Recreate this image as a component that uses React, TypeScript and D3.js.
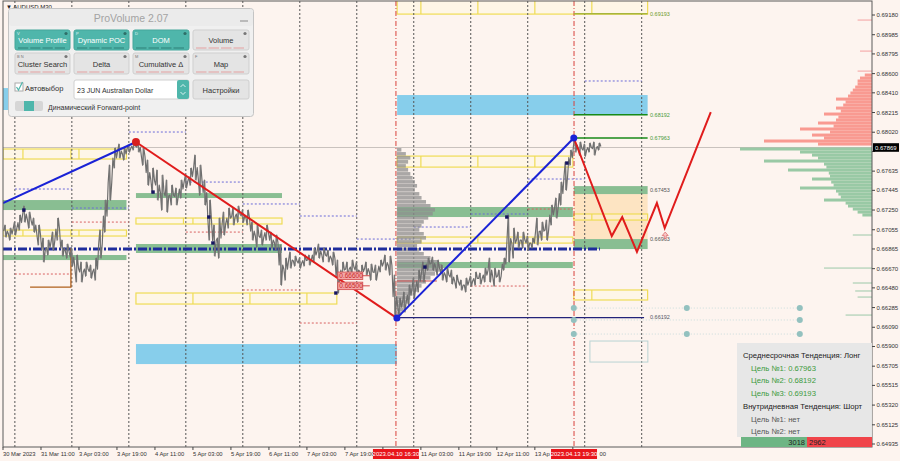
import * as d3 from "d3"

// AUDUSD M30, bars grouped in 2h bins, hours counted in trading time from 30 Mar 19:00
const binHours = 2
const barHigh = [
  0.67102, 0.67072, 0.67131, 0.67201, 0.6729, 0.6723, 0.67171, 0.67102, 0.66973, 0.66953,
  0.67032, 0.67171, 0.66953, 0.66914, 0.66874, 0.66805, 0.66736, 0.66736, 0.66706, 0.66775,
  0.67052, 0.67349, 0.67695, 0.67864, 0.67903, 0.67864, 0.67893, 0.67923, 0.67923, 0.67864,
  0.67745, 0.67666, 0.67646, 0.67596, 0.67547, 0.67497, 0.67468, 0.67547, 0.67596, 0.67666,
  0.67794, 0.67695, 0.67547, 0.67349, 0.67102, 0.67171, 0.6723, 0.6727, 0.6727, 0.6729,
  0.6725, 0.6725, 0.67131, 0.67102, 0.67052, 0.67102, 0.67032, 0.67003, 0.66904, 0.66775,
  0.66835, 0.66795, 0.66775, 0.66805, 0.66805, 0.66874, 0.66914, 0.66874, 0.66854, 0.66835,
  0.66755, 0.66736, 0.66736, 0.66755, 0.66736, 0.66706, 0.66736, 0.66716, 0.66706, 0.66755,
  0.66805, 0.66795, 0.66607, 0.66379, 0.66439, 0.66508, 0.66577, 0.66656, 0.66736, 0.66775,
  0.66785, 0.66755, 0.66706, 0.66676, 0.66656, 0.66607, 0.66557, 0.66577, 0.66597, 0.66637,
  0.66627, 0.66676, 0.66775, 0.66676, 0.66656, 0.66775, 0.67201, 0.67072, 0.67032, 0.67032,
  0.66993, 0.66973, 0.67171, 0.67131, 0.67151, 0.673, 0.67369, 0.67527, 0.67725, 0.67844,
  0.67963, 0.67923, 0.67903, 0.67913, 0.67923, 0.67913,
]
const barLow = [
  0.66983, 0.66953, 0.67003, 0.67052, 0.67131, 0.67072, 0.67032, 0.66904, 0.66736, 0.66805,
  0.66854, 0.66953, 0.66795, 0.66775, 0.66696, 0.66538, 0.66538, 0.66597, 0.66577, 0.66557,
  0.66775, 0.67032, 0.67349, 0.67666, 0.67765, 0.67745, 0.67824, 0.67844, 0.67824, 0.67695,
  0.67497, 0.67418, 0.67349, 0.6725, 0.6723, 0.673, 0.673, 0.67369, 0.67468, 0.67497,
  0.67547, 0.67398, 0.673, 0.66953, 0.66795, 0.66775, 0.67003, 0.67072, 0.67102, 0.67131,
  0.67131, 0.67102, 0.66953, 0.66884, 0.66904, 0.66953, 0.66874, 0.66854, 0.66508, 0.66557,
  0.66676, 0.66696, 0.66676, 0.66696, 0.66706, 0.66736, 0.66775, 0.66736, 0.66736, 0.66706,
  0.66429, 0.66577, 0.66597, 0.66617, 0.66577, 0.66577, 0.66607, 0.66557, 0.66557, 0.66637,
  0.66656, 0.66607, 0.66181, 0.66201, 0.66241, 0.6631, 0.66379, 0.66439, 0.66538, 0.66656,
  0.66656, 0.66607, 0.66557, 0.66538, 0.66518, 0.66478, 0.66458, 0.66439, 0.66498, 0.66508,
  0.66518, 0.66538, 0.66538, 0.66498, 0.66538, 0.66656, 0.66736, 0.66775, 0.66874, 0.66874,
  0.66854, 0.66874, 0.66904, 0.66953, 0.66953, 0.67102, 0.67171, 0.673, 0.67448, 0.67695,
  0.67824, 0.67794, 0.67784, 0.67824, 0.67794, 0.67844,
]

const priceTicks = [
  "0.69180", "0.68985", "0.68795", "0.68600", "0.68410", "0.68215", "0.68020", "0.67830",
  "0.67635", "0.67445", "0.67250", "0.67055", "0.66865", "0.66670", "0.66480", "0.66285",
  "0.66090", "0.65900", "0.65705", "0.65515", "0.65320", "0.65125", "0.64935",
]
const timeLabels = [
  "30 Mar 2023", "31 Mar 11:00", "3 Apr 03:00", "3 Apr 19:00", "4 Apr 11:00", "5 Apr 03:00",
  "5 Apr 19:00", "6 Apr 11:00", "7 Apr 03:00", "7 Apr 19:00", "10 Apr 11:00", "11 Apr 03:00",
  "11 Apr 19:00", "12 Apr 11:00", "13 Apr 03:00", "13 Apr 19:00",
]
const daySeparators = [5, 29, 53, 77, 101, 125, 149, 173, 197, 221, 245, 269]
const markerTimes = [
  { label: "2023.04.10 16:30", h: 165.5 },
  { label: "2023.04.13 19:30", h: 240.5 },
]
const currentPrice = 0.67869

// zones: [fromHour, toHour, topPrice, bottomPrice]
const skyZones = [
  [0, 52, 0.68457, 0.6824],
  [166, 271.5, 0.68388, 0.6819],
  [56, 165.9, 0.65924, 0.65726],
]
const greenZones = [
  [0, 52, 0.67349, 0.6725],
  [0, 52, 0.66805, 0.66755],
  [56, 117.5, 0.67418, 0.67369],
  [56, 117.5, 0.66914, 0.66825],
  [166, 240, 0.6728, 0.67181],
  [166, 240, 0.66736, 0.66676],
  [240.4, 271.5, 0.67487, 0.67408],
  [240.4, 271.5, 0.66963, 0.66864],
]
const orangeZones = [[240.4, 271.5, 0.67408, 0.66963]]
const yellowBoxes = [
  { z: [0, 52, 0.67854, 0.67755], div: [8.4, 28.6, 32] },
  { z: [0, 52, 0.67052, 0.66993], div: [8.4, 28.6, 32] },
  { z: [56, 117.5, 0.67171, 0.67112], div: [76, 80] },
  { z: [56, 140.6, 0.66429, 0.6632], div: [80, 104, 128] },
  { z: [166, 240, 0.67784, 0.67675], div: [176, 200, 224] },
  { z: [166, 240, 0.66983, 0.66923], div: [176, 200, 224] },
  { z: [166, 271.5, 0.6935, 0.69189], div: [176, 200, 224, 248] },
  { z: [240.4, 271.5, 0.67211, 0.67151], div: [248] },
  { z: [240.4, 271.5, 0.66459, 0.6636], div: [248] },
]
// daily levels: [fromHour, toHour, price]
const blueLevels = [
  [5, 29, 0.67458], [29, 53, 0.6727], [53, 77, 0.68022], [77, 101, 0.67527],
  [101, 125, 0.6731], [125, 149, 0.67191], [149, 173, 0.66963], [173, 197, 0.67082],
  [197, 221, 0.67211], [221, 245, 0.67557], [245, 269, 0.68527],
]
const redLevels = [
  [5, 29, 0.66617], [29, 53, 0.67131], [77, 101, 0.67032], [101, 125, 0.66459],
  [125, 149, 0.66132], [197, 221, 0.66498], [221, 240, 0.6726],
]
const pocLine = { from: 0, to: 251.4, price: 0.66864 }
const lowLine = { from: 165.9, to: 270, price: 0.66185 }
const brownPath = [[11.4, 0.66488], [28.6, 0.66488], [28.6, 0.66874]]

const targets = [
  { price: 0.69193, color: "#a7b53c" },
  { price: 0.68192, color: "#188a18" },
  { price: 0.67963, color: "#188a18" },
]
const levelLabels = [
  { price: 0.69193, text: "0.69193", color: "#6f9a2a" },
  { price: 0.68192, text: "0.68192", color: "#4a9a3a" },
  { price: 0.67963, text: "0.67963", color: "#4a9a3a" },
  { price: 0.67453, text: "0.67453", color: "#555" },
  { price: 0.66963, text: "0.66963", color: "#555" },
  { price: 0.66192, text: "0.66192", color: "#556" },
]

const waveUp1 = [[0, 0.67319], [56, 0.67923]]
const waveDown = [[56, 0.67923], [165.9, 0.66181]]
const waveUp2 = [[165.9, 0.66181], [240.4, 0.67963]]
const forecast = [
  [240.4, 0.67963], [256.4, 0.66993], [260.8, 0.67181], [267, 0.66835],
  [275.4, 0.67319], [278.7, 0.67072], [298.1, 0.6822],
]
const swingDots = [
  [8.8, 0.6725], [63.2, 0.67428], [86.7, 0.67181], [88.4, 0.66924], [140.2, 0.66429],
  [177.7, 0.66686], [212.2, 0.67181], [237.5, 0.67715],
]
const circleMarks = [
  [240.4, 0.6628], [288, 0.6628], [335.6, 0.6628], [240.4, 0.66162], [335.6, 0.66162],
  [240.4, 0.66023], [288, 0.66023], [335.6, 0.66023],
]
const priceTags = [
  { text: "0.66600", price: 0.666 },
  { text: "0.66500", price: 0.665 },
]

// volume profile of the last swing
const profilePrices = [
  0.67844, 0.67804, 0.67765, 0.67725, 0.67685, 0.67646, 0.67606, 0.67567, 0.67527, 0.67488,
  0.67448, 0.67408, 0.67369, 0.67329, 0.6729, 0.6725, 0.67211, 0.67171, 0.67131, 0.67092,
  0.67052, 0.67013, 0.66973, 0.66933, 0.66894, 0.66854, 0.66815, 0.66775, 0.66736, 0.66696,
  0.66656, 0.66617, 0.66577, 0.66538, 0.66498, 0.66458, 0.66419, 0.66379, 0.6634, 0.663,
  0.66261, 0.66221,
]
const profileVol = [
  8, 16, 24, 20, 16, 20, 24, 28, 32, 36, 32, 40, 44, 52, 60, 68, 64, 56, 48, 44,
  40, 48, 52, 44, 36, 40, 48, 60, 72, 80, 76, 68, 60, 52, 44, 36, 28, 24, 20, 16,
  12, 8,
]

// depth of market at the right edge
const askPrices = [
  0.68586, 0.68556, 0.68527, 0.68497, 0.68467, 0.68437, 0.68408, 0.68378, 0.68348, 0.68319,
  0.68289, 0.68259, 0.6823, 0.682, 0.6817, 0.68141, 0.68111, 0.68081, 0.68052, 0.68022,
  0.67992, 0.67963, 0.67933, 0.67903,
]
const askSize = [
  6, 10, 12, 12, 14, 16, 18, 20, 30, 22, 24, 30, 26, 40, 28, 30, 45, 32, 60, 35, 50, 40, 90, 45,
]
const bidPrices = [
  0.67854, 0.67824, 0.67794, 0.67765, 0.67735, 0.67705, 0.67676, 0.67646, 0.67616, 0.67586,
  0.67557, 0.67527, 0.67497, 0.67468, 0.67438, 0.67408, 0.67379, 0.67349, 0.67319, 0.6729,
  0.6726, 0.6723, 0.67201,
]
const bidSize = [
  110, 60, 50, 45, 90, 40, 38, 70, 36, 35, 50, 34, 32, 60, 30, 28, 26, 40, 22, 20, 16, 12, 8,
]
const domStray = [
  { price: 0.6913, size: 12, ask: true }, { price: 0.68823, size: 10, ask: true },
  { price: 0.68625, size: 12, ask: true }, { price: 0.67003, size: 16, ask: false },
  { price: 0.66676, size: 40, ask: false }, { price: 0.66528, size: 16, ask: false },
  { price: 0.66449, size: 14, ask: false }, { price: 0.66389, size: 12, ask: false },
  { price: 0.66211, size: 22, ask: false },
]

const trendInfo = [
  { text: "Среднесрочная Тенденция: Лонг", color: "#222", indent: 0 },
  { text: "Цель №1: 0.67963", color: "#3c9a3c", indent: 8 },
  { text: "Цель №2: 0.68192", color: "#3c9a3c", indent: 8 },
  { text: "Цель №3: 0.69193", color: "#3c9a3c", indent: 8 },
  { text: "Внутридневная Тенденция: Шорт", color: "#222", indent: 0 },
  { text: "Цель №1: нет", color: "#555", indent: 8 },
  { text: "Цель №2: нет", color: "#555", indent: 8 },
]
const buyVolume = 3018
const sellVolume = 2962

const FONT = "Liberation Sans, Arial, sans-serif"
const TEAL = "#4fb6ab"
const AXIS_FS = 5.8

// rough Arial advance widths, used to cut axis labels hidden under the red time markers
function textWidth(s: string, fs: number) {
  let w = 0
  for (const ch of s) {
    if (/[0-9]/.test(ch)) w += 0.556
    else if (ch === " " || ch === ":") w += 0.278
    else if (ch === "r") w += 0.333
    else if (ch === "M") w += 0.833
    else if (ch === "A") w += 0.667
    else w += 0.556
  }
  return w * fs
}

function Button({ x, y, w, h, label, on, letter }: any) {
  return (
    <g>
      <rect x={x} y={y} width={w} height={h} rx={2} fill={on ? TEAL : "#e4e4e4"} stroke={on ? "#45a69b" : "#cfcfcf"} />
      <text x={x + w / 2} y={y + h / 2 + 3} textAnchor="middle" fontSize={7.5} fill={on ? "#fff" : "#333"}>
        {label}
      </text>
      {letter && (
        <text x={x + 2} y={y + 5} fontSize={4} fill={on ? "#e0f4f2" : "#777"}>
          {letter}
        </text>
      )}
      <circle cx={x + w - 4} cy={y + 3.5} r={1.6} fill={on ? "#2f6f68" : "#777"} />
      {[0, 1, 2, 3].map((k) => (
        <line
          key={k}
          x1={x + 3 + (k * (w - 6)) / 4}
          x2={x + 1 + ((k + 1) * (w - 6)) / 4}
          y1={y + h - 2}
          y2={y + h - 2}
          stroke={on ? "#2e7f76" : "#e4a0a0"}
          strokeWidth={1}
        />
      ))}
    </g>
  )
}

export default function App() {
  const x = d3.scaleLinear().domain([0, 366]).range([3, 872])
  const y = d3.scaleLinear().domain([0.64935, 0.6918]).range([444, 15])
  const vol = d3.scaleLinear().domain([0, 100]).range([0, 56])
  const dom = d3.scaleLinear().domain([0, 100]).range([0, 120])
  const line = d3
    .line<number[]>()
    .x((d) => x(d[0]))
    .y((d) => y(d[1]))

  // price bars as a zig-zag through each bin's high and low
  let pricePath = ""
  barHigh.forEach((hi, i) => {
    const lo = barLow[i]
    const h0 = i * binHours
    const first = i % 2 === 0 ? hi : lo
    const second = i % 2 === 0 ? lo : hi
    pricePath += `${i === 0 ? "M" : "L"}${x(h0 + 0.3)},${y((hi + lo) / 2)}L${x(h0 + 0.8)},${y(first)}L${x(h0 + 1.3)},${y(second)}L${x(h0 + 1.8)},${y(hi * 0.5 + lo * 0.5)}`
  })

  const zoneRect = (z: number[], key: any, props: any) => (
    <rect key={key} x={x(z[0])} y={y(z[2])} width={x(z[1]) - x(z[0])} height={y(z[3]) - y(z[2])} {...props} />
  )

  const plotRight = x(366)
  const plotBottom = 447
  const markerBoxes = markerTimes.map((m) => [x(m.h) - 23, x(m.h) + 23])

  // keep only the visible part of time labels that run under a red marker label
  const axisLabels = timeLabels.map((t, i) => {
    const lx = x(i * 16)
    let text = t
    let tx = lx
    for (const [b0, b1] of markerBoxes) {
      const end = tx + textWidth(text, AXIS_FS)
      if (tx >= b0 && tx <= b1) {
        let k = 0
        while (k < text.length && tx + textWidth(text.slice(0, k), AXIS_FS) < b1 + 1) k++
        tx = tx + textWidth(text.slice(0, k), AXIS_FS)
        text = text.slice(k)
      } else if (tx < b0 && end > b0 + 2.5) {
        let k = text.length
        while (k > 0 && tx + textWidth(text.slice(0, k), AXIS_FS) > b0 - 0.5) k--
        text = text.slice(0, k).trimEnd()
      }
    }
    return { lx, tx, text }
  })

  return (
    <div style={{ position: "absolute", left: 0, top: 0, width: 900, height: 461 }}>
      <svg width={900} height={461} style={{ display: "block" }} fontFamily={FONT}>
        <defs>
          <clipPath id="plot">
            <rect x={3} y={1} width={plotRight - 3} height={plotBottom - 1} />
          </clipPath>
        </defs>
        <rect width={900} height={461} fill="#fdf4ef" />

        <g clipPath="url(#plot)">
          {skyZones.map((z, i) => zoneRect(z, "s" + i, { fill: "#87ceeb" }))}
          {orangeZones.map((z, i) => zoneRect(z, "o" + i, { fill: "#fde4c2" }))}
          {greenZones.map((z, i) => zoneRect(z, "g" + i, { fill: "#7fb98a", opacity: 0.92 }))}
          {yellowBoxes.map((b, i) => (
            <g key={"y" + i} stroke="#efdc55" strokeWidth={1.2} fill="none">
              {zoneRect(b.z, "r", { fill: "#fff8da", fillOpacity: 0.35 })}
              {b.div.map((d, k) => (
                <line key={k} x1={x(d)} x2={x(d)} y1={y(b.z[2])} y2={y(b.z[3])} />
              ))}
            </g>
          ))}

          {daySeparators.map((h) => (
            <line key={h} x1={x(h)} x2={x(h)} y1={1} y2={plotBottom} stroke="#555" strokeWidth={1} strokeDasharray="2,2" />
          ))}
          {markerTimes.map((m) => (
            <line key={m.h} x1={x(m.h)} x2={x(m.h)} y1={1} y2={plotBottom} stroke="#d8403a" strokeWidth={1} strokeDasharray="5,2,1,2" />
          ))}
          <line x1={3} x2={plotRight} y1={y(currentPrice)} y2={y(currentPrice)} stroke="#c9c2be" strokeWidth={1} />

          {blueLevels.map((l, i) => (
            <line key={"bl" + i} x1={x(l[0])} x2={x(l[1])} y1={y(l[2])} y2={y(l[2])} stroke="#6a6ad8" strokeDasharray="2,2" />
          ))}
          {redLevels.map((l, i) => (
            <line key={"rl" + i} x1={x(l[0])} x2={x(l[1])} y1={y(l[2])} y2={y(l[2])} stroke="#d86060" strokeDasharray="2,2" />
          ))}

          {/* volume profile */}
          {profilePrices.map((p, i) => (
            <rect key={"vp" + i} x={x(165.9)} y={y(p) - 2} width={vol(profileVol[i])} height={3.6} fill="#8e8e8e" opacity={0.75} />
          ))}
          <line x1={x(165.9)} x2={x(165.9) + 40} y1={y(0.66548)} y2={y(0.66548)} stroke="#d05050" strokeWidth={1} />

          {/* depth of market */}
          {askPrices.map((p, i) => (
            <rect key={"a" + i} x={plotRight - dom(askSize[i])} y={y(p) - 1.5} width={dom(askSize[i])} height={3} fill="#f88a80" opacity={0.85} />
          ))}
          {bidPrices.map((p, i) => (
            <rect key={"b" + i} x={plotRight - dom(bidSize[i])} y={y(p) - 1.5} width={dom(bidSize[i])} height={3} fill="#8ec49c" opacity={0.9} />
          ))}
          {domStray.map((d, i) => (
            <line key={"ds" + i} x1={plotRight - dom(d.size)} x2={plotRight} y1={y(d.price)} y2={y(d.price)} stroke={d.ask ? "#f4a0a0" : "#9cc8a8"} strokeWidth={1} />
          ))}

          <line x1={x(pocLine.from)} x2={x(pocLine.to)} y1={y(pocLine.price)} y2={y(pocLine.price)} stroke="#1f2c9c" strokeWidth={3} strokeDasharray="9,2,2,2" />
          <line x1={x(lowLine.from)} x2={x(lowLine.to)} y1={y(lowLine.price)} y2={y(lowLine.price)} stroke="#23237a" strokeWidth={1.3} />
          {targets.map((t) => (
            <line key={t.price} x1={x(240.4)} x2={x(271.5)} y1={y(t.price)} y2={y(t.price)} stroke={t.color} strokeWidth={1.5} />
          ))}
          {levelLabels.map((l) => (
            <text key={l.text} x={x(272.5)} y={y(l.price) + 2} fontSize={5.5} fill={l.color}>
              {l.text}
            </text>
          ))}
          <path d={line(brownPath as any) || ""} fill="none" stroke="#b0601c" strokeWidth={1.3} />

          {[0.6628, 0.66162, 0.66023].map((p) => (
            <line key={p} x1={x(240.4)} x2={x(335.6)} y1={y(p)} y2={y(p)} stroke="#c8dcdc" strokeDasharray="1,2" />
          ))}
          <rect x={x(247.2)} y={y(0.65954)} width={x(271.6) - x(247.2)} height={y(0.65746) - y(0.65954)} fill="none" stroke="#b9d3d3" />

          <path d={pricePath} fill="none" stroke="#6e6e6e" strokeWidth={1.2} strokeLinejoin="round" />
          {barHigh.map((hi, i) => (
            <line key={"bar" + i} x1={x(i * binHours + 1)} x2={x(i * binHours + 1)} y1={y(hi)} y2={y(barLow[i])} stroke="#7a7a7a" strokeWidth={1} />
          ))}

          <path d={line(waveUp1 as any) || ""} stroke="#1a22d6" strokeWidth={2} fill="none" />
          <path d={line(waveDown as any) || ""} stroke="#e01c1c" strokeWidth={2} fill="none" />
          <path d={line(waveUp2 as any) || ""} stroke="#1a22d6" strokeWidth={2} fill="none" />
          <path d={line(forecast as any) || ""} stroke="#e01c1c" strokeWidth={2} fill="none" strokeLinejoin="miter" />
          <circle cx={x(56)} cy={y(0.67923)} r={4} fill="#d81e1e" />
          <circle cx={x(165.9)} cy={y(0.66181)} r={3.5} fill="#1a22d6" />
          <circle cx={x(240.4)} cy={y(0.67963)} r={3.5} fill="#1a22d6" />
          {swingDots.map((d, i) => (
            <rect key={"sd" + i} x={x(d[0]) - 1.7} y={y(d[1]) - 1.7} width={3.4} height={3.4} fill="#151560" />
          ))}
          <path d={`M${x(278.9)},${y(0.67032)}l-3,3.5h2v3h2v-3h2z`} fill="#f7c8c8" stroke="#e07070" strokeWidth={0.8} />
          {circleMarks.map((c, i) => (
            <circle key={"cm" + i} cx={x(c[0])} cy={y(c[1])} r={3} fill="#93c1bf" />
          ))}
          {priceTags.map((t) => (
            <g key={t.text}>
              <rect x={x(141)} y={y(t.price) - 3.7} width={25} height={7.5} fill="#f3a6a6" stroke="#d24a4a" strokeWidth={0.8} />
              <text x={x(141) + 1.5} y={y(t.price) + 2.3} fontSize={6.5} fill="#c82828">
                {t.text}
              </text>
              <line x1={x(141) + 25} x2={x(141) + 32} y1={y(t.price)} y2={y(t.price)} stroke="#d24a4a" />
            </g>
          ))}
        </g>

        {/* frame and axes */}
        <rect x={3} y={1} width={plotRight - 3} height={plotBottom - 1} fill="none" stroke="#5a5a5a" strokeWidth={1} />
        <text x={6} y={8.5} fontSize={6} fill="#222">
          ▼ AUDUSD,M30
        </text>
        {priceTicks.map((t) => (
          <g key={t}>
            <line x1={plotRight} x2={plotRight + 3} y1={y(+t)} y2={y(+t)} stroke="#444" />
            {Math.abs(y(+t) - y(currentPrice)) > 7 && (
              <text x={plotRight + 4.5} y={y(+t) + 2} fontSize={6} fill="#333">
                {t}
              </text>
            )}
          </g>
        ))}
        <rect x={plotRight + 1} y={y(currentPrice) - 4.3} width={26} height={8.6} fill="#000" />
        <text x={plotRight + 3} y={y(currentPrice) + 2.2} fontSize={6} fill="#fff">
          {currentPrice.toFixed(5)}
        </text>
        {axisLabels.map((l, i) => (
          <g key={i}>
            <line x1={l.lx} x2={l.lx} y1={plotBottom} y2={plotBottom + 3} stroke="#444" />
            {l.text && (
              <text x={l.tx} y={plotBottom + 8.5} fontSize={AXIS_FS} fill="#333">
                {l.text}
              </text>
            )}
          </g>
        ))}
        {markerTimes.map((m) => (
          <g key={m.label}>
            <rect x={x(m.h) - 23} y={plotBottom + 2} width={46} height={10} fill="#e8161c" />
            <text x={x(m.h)} y={plotBottom + 9} textAnchor="middle" fontSize={6} fill="#fff">
              {m.label}
            </text>
          </g>
        ))}

        {/* trend info panel */}
        <rect x={737} y={343} width={plotRight - 737} height={94} fill="#e6e6e6" opacity={0.95} />
        {trendInfo.map((r, i) => (
          <text key={i} x={743 + r.indent} y={358 + i * 12.7} fontSize={7.7} fill={r.color}>
            {r.text}
          </text>
        ))}
        <rect x={741} y={437} width={66} height={10} fill="#6db584" />
        <rect x={807} y={437} width={plotRight - 807} height={10} fill="#f0444a" />
        <text x={805} y={445} textAnchor="end" fontSize={7.5} fill="#222">
          {buyVolume}
        </text>
        <text x={809} y={445} fontSize={7.5} fill="#222">
          {sellVolume}
        </text>

        {/* ProVolume control panel */}
        <g>
          <rect x={8.5} y={8.5} width={245} height={108} rx={3} fill="#f0f0f0" stroke="#c4c4c4" />
          <rect x={9} y={9} width={244} height={17} rx={3} fill="#ebebeb" />
          <text x={131} y={21.5} textAnchor="middle" fontSize={10.5} fill="#a3a3a3">
            ProVolume 2.07
          </text>
          <line x1={240} x2={248} y1={21} y2={21} stroke="#999" strokeWidth={1.2} />
          <Button x={15} y={30} w={55} h={20} label="Volume Profile" on letter="V" />
          <Button x={74} y={30} w={55} h={20} label="Dynamic POC" on letter="P" />
          <Button x={133} y={30} w={56} h={20} label="DOM" on letter="D" />
          <Button x={193} y={30} w={56} h={20} label="Volume" />
          <Button x={15} y={53} w={55} h={21} label="Cluster Search" letter="B  N" />
          <Button x={74} y={53} w={55} h={21} label="Delta" />
          <Button x={133} y={53} w={56} h={21} label="Cumulative Δ" letter="M" />
          <Button x={193} y={53} w={56} h={21} label="Map" letter="F" />
          <rect x={15} y={83} width={8} height={8} fill="#fff" stroke="#aaa" />
          <path d="M16.5,87 l2,3 l4,-8" fill="none" stroke={TEAL} strokeWidth={1.2} />
          <text x={25} y={91} fontSize={7.5} fill="#333">
            Автовыбор
          </text>
          <rect x={74} y={80} width={115} height={19} rx={2} fill="#fff" stroke="#d0d0d0" />
          <text x={77} y={92.5} fontSize={7} fill="#333">
            23 JUN Australian Dollar
          </text>
          <rect x={177} y={80} width={12} height={19} rx={2} fill={TEAL} />
          <path d="M180.5,87 l2.5,-2.5 l2.5,2.5 M180.5,92 l2.5,2.5 l2.5,-2.5" fill="none" stroke="#fff" strokeWidth={0.8} />
          <rect x={193} y={80} width={56} height={19} rx={2} fill="#e4e4e4" stroke="#cfcfcf" />
          <text x={221} y={92.5} textAnchor="middle" fontSize={7.5} fill="#333">
            Настройки
          </text>
          <rect x={15} y={101} width={28} height={10} rx={2} fill="#d6d6d6" />
          <rect x={24} y={101} width={10} height={10} fill={TEAL} />
          <text x={48} y={109.5} fontSize={7} fill="#333">
            Динамический Forward-point
          </text>
        </g>
      </svg>
    </div>
  )
}
